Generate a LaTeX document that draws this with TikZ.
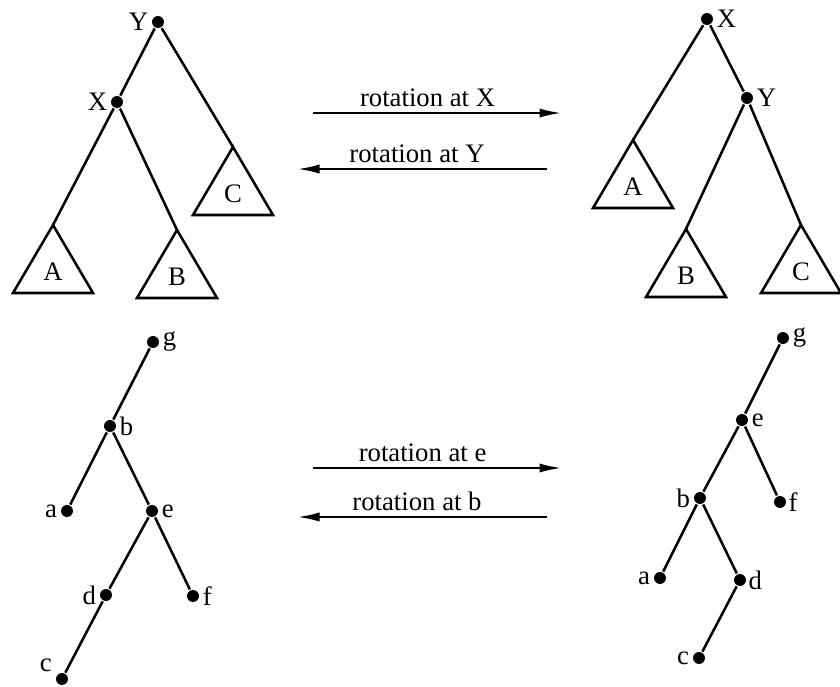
\documentclass[tikz,border=0pt]{standalone}
\usepackage{fontspec}
\setmainfont{Liberation Serif}
\usetikzlibrary{arrows.meta}

% a subtree drawn as a triangle hanging from its apex
\newcommand{\subtree}[3]{%
  \coordinate (#1) at #2;
  \draw (#1) -- ++(-40,68) -- ++(80,0) -- cycle;
  \path (#1) ++(0,47) node (#1l) {#3};
}

\begin{document}
\begin{tikzpicture}[x=0.025cm,y=-0.025cm,line width=1.8pt,
    dot/.style={circle,fill,inner sep=0pt,minimum size=8.5pt},
    rot/.style={-{Latex[length=16pt,width=6.5pt]}}]
    \tikzstyle{every node}=[font=\fontsize{19}{22}\selectfont]
    \tikzstyle{every label}=[inner sep=1pt]
    \useasboundingbox (0,0) rectangle (840,686);

    % top left: before the rotation at X
    \node[dot,label=left:Y] (Y1) at (158,22) {};
    \node[dot,label=left:X] (X1) at (117,102) {};
    \subtree{A1}{(53,225)}{A}
    \subtree{B1}{(177,230)}{B}
    \subtree{C1}{(233,147)}{C}
    \draw (Y1) -- (X1);
    \draw (Y1) -- (C1);
    \draw (X1) -- (A1);
    \draw (X1) -- (B1);

    % top right: after the rotation at X
    \node[dot,label=right:X] (X2) at (707,19) {};
    \node[dot,label=right:Y] (Y2) at (747,98) {};
    \subtree{A2}{(633,140)}{A}
    \subtree{B2}{(686,229)}{B}
    \subtree{C2}{(801,225)}{C}
    \draw (X2) -- (A2);
    \draw (X2) -- (Y2);
    \draw (Y2) -- (B2);
    \draw (Y2) -- (C2);

    % top arrows
    \coordinate (r1s) at (313,113);
    \coordinate (r1e) at (562,113);
    \coordinate (r2s) at (547,169);
    \coordinate (r2e) at (297,169);
    \draw[rot] (r1s) -- node[above,pos=0.46] {rotation at X} (r1e);
    \draw[rot] (r2s) -- node[above,pos=0.52] {rotation at Y} (r2e);

    % bottom left: before the rotation at e
    \node[dot,label=right:g] (g1) at (153,342) {};
    \node[dot,label=right:b] (b1) at (110,426) {};
    \node[dot,label=left:a] (a1) at (67,511) {};
    \node[dot,label=right:e] (e1) at (152,511) {};
    \node[dot,label=left:d] (d1) at (106,595) {};
    \node[dot,label=right:f] (f1) at (193,596) {};
    \node[dot,label={[label distance=1pt]150:c}] (c1) at (62,679) {};
    \draw (g1) -- (b1);
    \draw (b1) -- (a1);
    \draw (b1) -- (e1);
    \draw (e1) -- (d1);
    \draw (e1) -- (f1);
    \draw (d1) -- (c1);

    % bottom right: after the rotation at e
    \node[dot,label=right:g] (g2) at (783,338) {};
    \node[dot,label=right:e] (e2) at (742,420) {};
    \node[dot,label=left:b] (b2) at (700,498) {};
    \node[dot,label={[inner sep=0pt]right:f}] (f2) at (780,502) {};
    \node[dot,label=left:a] (a2) at (660,578) {};
    \node[dot,label={[inner sep=0pt]right:d}] (d2) at (740,580) {};
    \node[dot,label=left:c] (c2) at (699,658) {};
    \draw (g2) -- (e2);
    \draw (e2) -- (b2);
    \draw (e2) -- (f2);
    \draw (b2) -- (a2);
    \draw (b2) -- (d2);
    \draw (d2) -- (c2);

    % bottom arrows
    \coordinate (r3s) at (313,468);
    \coordinate (r3e) at (562,468);
    \coordinate (r4s) at (547,517);
    \coordinate (r4e) at (297,517);
    \draw[rot] (r3s) -- node[above,pos=0.44] {rotation at e} (r3e);
    \draw[rot] (r4s) -- node[above,pos=0.52] {rotation at b} (r4e);
\end{tikzpicture}
\end{document}
